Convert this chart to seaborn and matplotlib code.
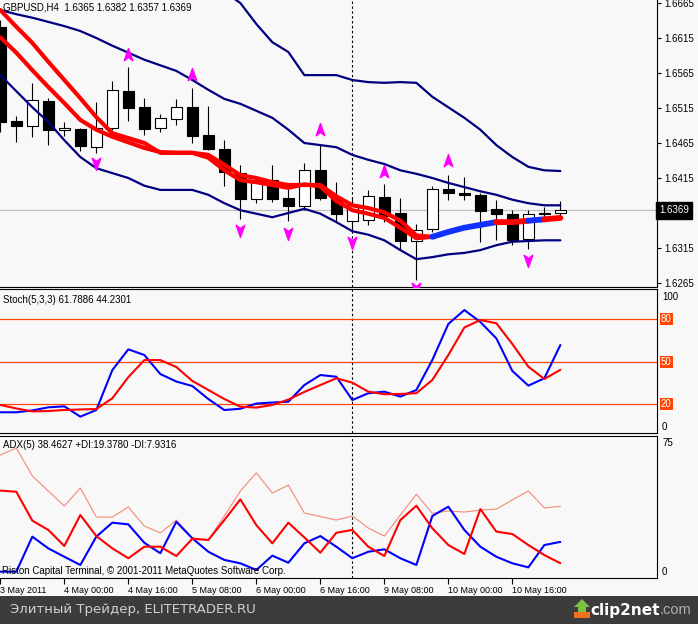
import numpy as np
import matplotlib
matplotlib.use("Agg")
import matplotlib.pyplot as plt
import matplotlib.transforms as mtransforms
import matplotlib.patches as mpatches
from matplotlib.path import Path
import seaborn as sns

# ------------------------------------------------------------------ data
bars = list(range(36))
opens = [1.6631, 1.6497, 1.6490, 1.6525, 1.6483, 1.6485, 1.6460, 1.6487, 1.6540, 1.6516,
         1.6487, 1.6500, 1.6516, 1.6476, 1.6456, 1.6422, 1.6385, 1.6412, 1.6386, 1.6375,
         1.6426, 1.6387, 1.6354, 1.6355, 1.6388, 1.6365, 1.6325, 1.6342, 1.6400, 1.6394,
         1.6391, 1.6371, 1.6364, 1.6328, 1.6365, 1.6365]
highs = [1.6641, 1.6503, 1.6551, 1.6530, 1.6495, 1.6487, 1.6524, 1.6554, 1.6574, 1.6529,
         1.6507, 1.6528, 1.6544, 1.6518, 1.6470, 1.6434, 1.6418, 1.6434, 1.6400, 1.6436,
         1.6462, 1.6409, 1.6386, 1.6398, 1.6406, 1.6386, 1.6349, 1.6404, 1.6420, 1.6416,
         1.6393, 1.6384, 1.6370, 1.6370, 1.6374, 1.6382]
lows = [1.6481, 1.6467, 1.6473, 1.6462, 1.6475, 1.6454, 1.6451, 1.6484, 1.6497, 1.6476,
        1.6481, 1.6491, 1.6465, 1.6455, 1.6403, 1.6356, 1.6380, 1.6381, 1.6353, 1.6369,
        1.6384, 1.6354, 1.6341, 1.6348, 1.6352, 1.6312, 1.6270, 1.6338, 1.6383, 1.6383,
        1.6323, 1.6327, 1.6319, 1.6314, 1.6359, 1.6357]
closes = [1.6495, 1.6489, 1.6526, 1.6483, 1.6487, 1.6461, 1.6486, 1.6541, 1.6515, 1.6485,
          1.6501, 1.6517, 1.6475, 1.6457, 1.6423, 1.6385, 1.6412, 1.6385, 1.6375, 1.6426,
          1.6387, 1.6364, 1.6376, 1.6389, 1.6361, 1.6325, 1.6341, 1.6400, 1.6394, 1.6391,
          1.6368, 1.6363, 1.6327, 1.6364, 1.6363, 1.6369]

bb_middle = [1.6655, 1.6649, 1.6644, 1.6638, 1.6632, 1.6625, 1.6615, 1.6604, 1.6594, 1.6584,
             1.6576, 1.6568, 1.6555, 1.6541, 1.6528, 1.6521, 1.6511, 1.6501, 1.6484, 1.6465,
             1.6462, 1.6459, 1.6448, 1.6441, 1.6435, 1.6426, 1.6421, 1.6415, 1.6408, 1.6402,
             1.6396, 1.6391, 1.6384, 1.6379, 1.6376, 1.6376]
bb_lower = [1.6562, 1.6539, 1.6516, 1.6495, 1.6469, 1.6445, 1.6429, 1.6422, 1.6415, 1.6404,
            1.6398, 1.6398, 1.6398, 1.6391, 1.6379, 1.6369, 1.6364, 1.6359, 1.6365, 1.6371,
            1.6364, 1.6352, 1.6339, 1.6334, 1.6326, 1.6312, 1.6299, 1.6302, 1.6306, 1.6308,
            1.6312, 1.6319, 1.6324, 1.6325, 1.6326, 1.6326]
bb_upper_bars = list(range(14, 36))
bb_upper = [1.6681, 1.6665, 1.6635, 1.6609, 1.6595, 1.6562, 1.6562, 1.6562, 1.6555, 1.6552,
            1.6551, 1.6552, 1.6551, 1.6531, 1.6516, 1.6501, 1.6484, 1.6462, 1.6445, 1.6431,
            1.6426, 1.6425]

ma_bars = list(range(0, 28))
ma_fast = [1.6655, 1.6631, 1.6608, 1.6581, 1.6555, 1.6529, 1.6502, 1.6479, 1.6472, 1.6465,
           1.6451, 1.6451, 1.6451, 1.6448, 1.6434, 1.6419, 1.6415, 1.6409, 1.6405, 1.6405,
           1.6405, 1.6389, 1.6376, 1.6372, 1.6366, 1.6354, 1.6333, 1.6331]
ma_slow = [1.6616, 1.6594, 1.6569, 1.6545, 1.6522, 1.6498, 1.6484, 1.6474, 1.6466, 1.6458,
           1.6452, 1.6451, 1.6451, 1.6444, 1.6426, 1.6412, 1.6409, 1.6405, 1.6401, 1.6406,
           1.6403, 1.6382, 1.6369, 1.6364, 1.6358, 1.6344, 1.6329, 1.6331]
trend_bars = list(range(27, 36))
trend_line = [1.6331, 1.6338, 1.6344, 1.6348, 1.6352, 1.6352, 1.6354, 1.6356, 1.6358]
trend_state = ["up", "up", "up", "up", "down", "down", "up", "down"]

fractal_up_bars = [8, 12, 20, 24, 28]
fractal_up = [1.6591, 1.6562, 1.6484, 1.6424, 1.6439]
fractal_down_bars = [6, 15, 18, 22, 26, 33]
fractal_down = [1.6437, 1.6341, 1.6336, 1.6324, 1.6258, 1.6298]

stoch_k = [14.1, 14.1, 15.4, 17.6, 18.3, 11.0, 15.7, 44.0, 58.7, 54.7, 41.2, 35.9, 32.7,
           23.5, 15.7, 16.6, 20.3, 21.0, 21.6, 33.4, 40.5, 39.3, 22.8, 27.6, 28.7, 25.2,
           29.9, 51.2, 76.7, 86.6, 78.1, 66.5, 43.4, 33.0, 38.2, 61.79]
stoch_d = [19.3, 16.8, 14.7, 15.0, 15.7, 16.1, 16.4, 24.0, 39.0, 51.1, 51.1, 46.2, 36.3,
           29.9, 23.5, 18.1, 17.4, 19.3, 23.1, 28.5, 33.4, 38.2, 35.1, 28.7, 26.9, 27.1,
           27.6, 37.0, 54.7, 74.2, 79.5, 77.2, 62.5, 46.4, 37.7, 44.23]
stoch_levels = [20, 50, 80]

adx = [66.0, 69.8, 54.8, 46.7, 38.6, 48.3, 32.7, 32.7, 38.1, 27.9, 24.2, 31.1, 21.5, 20.4,
       33.3, 46.7, 56.4, 45.6, 49.9, 34.9, 33.0, 31.1, 33.3, 26.8, 22.5, 33.8, 45.0, 34.7,
       36.0, 35.4, 36.5, 37.0, 41.9, 46.7, 37.6, 38.46]
plus_di = [3.4, 3.4, 22.2, 15.9, 11.4, 7.0, 22.2, 29.7, 28.8, 18.9, 13.3, 30.2, 21.3, 14.1,
           9.7, 7.9, 4.3, 12.0, 8.2, 18.6, 22.5, 16.8, 10.6, 14.1, 15.4, 10.6, 7.0, 33.3,
           38.3, 25.8, 16.8, 11.4, 7.9, 5.7, 17.7, 19.38]
minus_di = [46.9, 46.3, 30.8, 25.8, 17.2, 33.8, 22.5, 15.9, 10.6, 16.8, 16.8, 11.8, 21.1,
            20.4, 31.1, 42.2, 28.4, 18.6, 29.7, 21.8, 13.6, 24.3, 25.8, 16.8, 11.8, 31.1,
            38.8, 26.7, 17.7, 12.9, 37.0, 24.9, 23.6, 17.7, 12.3, 7.93]

time_label_bars = [0, 4, 8, 12, 16, 20, 24, 28, 32]
time_labels = ["3 May 2011", "4 May 00:00", "4 May 16:00", "5 May 08:00", "6 May 00:00",
               "6 May 16:00", "9 May 08:00", "10 May 00:00", "10 May 16:00"]
separator_bar = 22
price_ticks = [1.6265, 1.6315, 1.6365, 1.6415, 1.6465, 1.6515, 1.6565, 1.6615, 1.6665]
last_price = 1.6369

title_main = "GBPUSD,H4  1.6365 1.6382 1.6357 1.6369"
title_stoch = "Stoch(5,3,3) 61.7886 44.2301"
title_adx = "ADX(5) 38.4627 +DI:19.3780 -DI:7.9316"
copyright_text = "Riston Capital Terminal, \u00a9 2001-2011 MetaQuotes Software Corp."
banner_text = "Элитный Трейдер, ELITETRADER.RU"

# ------------------------------------------------------------------ style
sns.set_theme(style="white")
plt.rcParams['font.family'] = ['Liberation Sans', 'DejaVu Sans']

W, H = 698, 624
BG = '#F8F8F8'
fig = plt.figure(figsize=(W / 100, H / 100), dpi=100)
fig.patch.set_facecolor(BG)


def rect(x0, y0, x1, y1):
    return [x0 / W, 1 - y1 / H, (x1 - x0) / W, (y1 - y0) / H]


def fpos(x, y):
    return x / W, 1 - y / H


ax = fig.add_axes(rect(0, 0, 657, 287))
ax_st = fig.add_axes(rect(0, 289, 657, 433))
ax_adx = fig.add_axes(rect(0, 435.5, 657, 578))

XL = (-0.02, 41.04)
for a in (ax, ax_st, ax_adx):
    a.set_facecolor(BG)
    for s in a.spines.values():
        s.set_color('black')
        s.set_linewidth(0.8)
    a.spines['left'].set_visible(False)
    a.axvline(separator_bar, color='black', lw=0.8, ls=(0, (2.2, 2.2)), zorder=1)
ax.spines['top'].set_visible(False)

# ------------------------------------------------------------------ price panel
ax.axhline(last_price, color='#C0C0C0', lw=0.9, zorder=1)
o = np.array(opens)
c = np.array(closes)
ax.vlines(bars, lows, highs, color='black', lw=0.8, zorder=2)
body_bottom = np.minimum(o, c)
body_height = np.maximum(np.abs(c - o), 0.00003)
body_colors = ['white' if cc >= oo else 'black' for oo, cc in zip(o, c)]
ax.bar(bars, body_height, bottom=body_bottom, width=0.66, color=body_colors,
       edgecolor='black', linewidth=0.8, zorder=3)

navy = '#000080'
sns.lineplot(x=bars, y=bb_middle, ax=ax, color=navy, lw=1.6, zorder=4)
sns.lineplot(x=bars, y=bb_lower, ax=ax, color=navy, lw=1.6, zorder=4)
sns.lineplot(x=bb_upper_bars, y=bb_upper, ax=ax, color=navy, lw=1.6, zorder=4)

sns.lineplot(x=ma_bars, y=ma_fast, ax=ax, color='#FF0000', lw=3.0, zorder=5)
sns.lineplot(x=ma_bars, y=ma_slow, ax=ax, color='#FF0000', lw=3.0, zorder=5)

state_color = {"up": '#1030FF', "down": '#FF0000'}
i = 0
while i < len(trend_state):
    j = i
    while j + 1 < len(trend_state) and trend_state[j + 1] == trend_state[i]:
        j += 1
    sns.lineplot(x=trend_bars[i:j + 2], y=trend_line[i:j + 2], ax=ax,
                 color=state_color[trend_state[i]], lw=4.2, zorder=6)
    i = j + 1

up_path = Path([(0, 1), (0.62, -0.75), (0, -0.3), (-0.62, -0.75), (0, 1)],
               [Path.MOVETO, Path.LINETO, Path.LINETO, Path.LINETO, Path.CLOSEPOLY])
down_path = Path([(0, -1), (0.62, 0.75), (0, 0.3), (-0.62, 0.75), (0, -1)],
                 [Path.MOVETO, Path.LINETO, Path.LINETO, Path.LINETO, Path.CLOSEPOLY])
ax.plot(fractal_up_bars, fractal_up, ls='none', marker=up_path, markersize=10,
        color='#FF00FF', zorder=7)
ax.plot(fractal_down_bars, fractal_down, ls='none', marker=down_path, markersize=10,
        color='#FF00FF', zorder=7)

ax.set_xlim(*XL)
ax.set_ylim(1.62593, 1.66693)
ax.set_xticks([])
ax.yaxis.tick_right()
ax.set_yticks(price_ticks)
# the tick label nearest the last price is hidden behind the price box in the terminal
ax.set_yticklabels(["" if abs(p - last_price) < 0.0008 else f"{p:.4f}" for p in price_ticks])
ax.tick_params(axis='y', right=True, left=False, length=3, width=0.8, pad=2,
               labelsize=7, colors='black')
ax.set_xlabel('')
ax.set_ylabel('')

trans = mtransforms.blended_transform_factory(ax.transAxes, ax.transData)
ax.text(1.0 + 2 / 657, last_price, f"{last_price:.4f}", transform=trans, ha='left',
        va='center', color='white', fontsize=7,
        bbox=dict(boxstyle='square,pad=0.35', fc='black', ec='black'),
        zorder=20, clip_on=False)

# ------------------------------------------------------------------ stochastic
for lv in stoch_levels:
    ax_st.axhline(lv, color='#FF4500', lw=0.9, zorder=1)
sns.lineplot(x=bars, y=stoch_k, ax=ax_st, color='#0000FF', lw=1.5, zorder=3)
sns.lineplot(x=bars, y=stoch_d, ax=ax_st, color='#FF0000', lw=1.5, zorder=4)
ax_st.set_xlim(*XL)
ax_st.set_ylim(-0.6, 101.5)
ax_st.set_xticks([])
ax_st.set_yticks([])
ax_st.set_xlabel('')
ax_st.set_ylabel('')
tst = mtransforms.blended_transform_factory(ax_st.transAxes, ax_st.transData)
ax_st.text(1.0 + 5 / 657, 96.0, "100", transform=tst, ha='left', va='center',
           fontsize=7, color='black', clip_on=False)
ax_st.text(1.0 + 5 / 657, 3.9, "0", transform=tst, ha='left', va='center',
           fontsize=7, color='black', clip_on=False)
for lv in stoch_levels:
    ax_st.text(1.0 + 4 / 657, lv, str(lv), transform=tst, ha='left', va='center',
               fontsize=7, color='white', clip_on=False,
               bbox=dict(boxstyle='square,pad=0.1', fc='#FF4500', ec='none'))

# ------------------------------------------------------------------ ADX
sns.lineplot(x=bars, y=adx, ax=ax_adx, color='#F48a78', lw=0.8, zorder=2)
sns.lineplot(x=bars, y=plus_di, ax=ax_adx, color='#0000FF', lw=1.5, zorder=3)
sns.lineplot(x=bars, y=minus_di, ax=ax_adx, color='#FF0000', lw=1.5, zorder=4)
ax_adx.set_xlim(*XL)
ax_adx.set_ylim(0, 76.5)
ax_adx.set_yticks([])
ax_adx.set_xlabel('')
ax_adx.set_ylabel('')
ax_adx.set_xticks(time_label_bars)
ax_adx.set_xticklabels(time_labels, ha='left', fontsize=6.5)
ax_adx.tick_params(axis='x', bottom=True, length=4, width=0.8, pad=1.5, colors='black')
tad = mtransforms.blended_transform_factory(ax_adx.transAxes, ax_adx.transData)
ax_adx.text(1.0 + 5 / 657, 72.6, "75", transform=tad, ha='left', va='center',
            fontsize=7, color='black', clip_on=False)
ax_adx.text(1.0 + 5 / 657, 3.4, "0", transform=tad, ha='left', va='center',
            fontsize=7, color='black', clip_on=False)

# ------------------------------------------------------------------ captions
fig.text(*fpos(3, 7), title_main, ha='left', va='center', fontsize=7, color='black', zorder=30)
fig.text(*fpos(3, 300), title_stoch, ha='left', va='center', fontsize=7, color='black', zorder=30)
fig.text(*fpos(3, 445.5), title_adx, ha='left', va='center', fontsize=7, color='black', zorder=30)
fig.text(*fpos(2, 570.5), copyright_text, ha='left', va='center', fontsize=7, color='black', zorder=30)

# ------------------------------------------------------------------ banner
fig.add_artist(mpatches.Rectangle((0, 0), 1, 28 / H, transform=fig.transFigure,
                                  fc='#3C3C3C', ec='none', zorder=0))
fig.text(*fpos(10, 610), banner_text, ha='left', va='center', fontsize=9.5,
         color='#D0D0D0', family='DejaVu Sans')

arrow_px = [(582, 599), (590, 607), (586, 607), (586, 612), (578, 612), (578, 607), (574, 607)]
fig.add_artist(mpatches.Polygon([fpos(x, y) for x, y in arrow_px], closed=True,
                                transform=fig.transFigure, fc='#7CC242', ec='none'))
fig.add_artist(mpatches.Rectangle(fpos(574, 618), 16 / W, 6 / H, transform=fig.transFigure,
                                  fc='#F07020', ec='none'))
fig.text(*fpos(660, 610), "clip2net", ha='right', va='center', fontsize=11,
         fontweight='bold', color='white', family='DejaVu Sans')
fig.text(*fpos(660, 610), ".com", ha='left', va='center', fontsize=10.5,
         color='#B0B0B0', family='Liberation Sans')

fig.savefig("out.png", dpi=100, facecolor=BG)
